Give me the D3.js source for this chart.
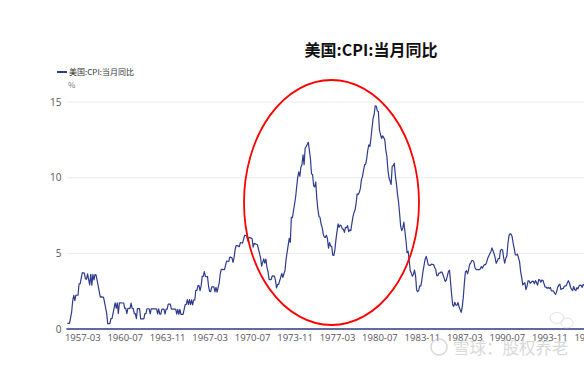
<!DOCTYPE html>
<html><head><meta charset="utf-8">
<script src="https://cdn.jsdelivr.net/npm/d3@7"></script>
<style>
html,body{margin:0;padding:0;background:#fff;}
svg{display:block;font-family:"Microsoft YaHei","Noto Sans CJK SC","Noto Sans",sans-serif;}
</style></head>
<body>
<svg id="chart" width="584" height="365"></svg>
<script>
const title = "美国:CPI:当月同比";
const seriesName = "美国:CPI:当月同比";
const unit = "%";
const startYear = 1956, startMonth = 1;
// monthly YoY % from 1956-01 to 1997-03
const cpiYoY = [
0.37,0.37,0.37,0.75,1.12,1.87,2.23,1.87,2.24,2.23,2.23,2.99,
2.99,3.35,3.72,3.71,3.70,3.31,3.29,3.65,3.27,2.92,3.62,2.90,
3.62,3.25,3.60,3.58,3.21,2.85,2.47,2.11,2.12,2.11,2.11,1.76,
1.40,1.05,0.35,0.35,0.35,0.69,0.69,1.04,1.38,1.73,1.38,1.73,
1.03,1.73,1.73,1.72,1.72,1.72,1.37,1.37,1.02,1.36,1.36,1.36,
1.71,1.36,1.36,1.01,1.01,0.68,1.35,1.35,1.35,0.67,0.67,0.67,
0.67,1.01,1.01,1.34,1.34,1.34,1.00,1.34,1.33,1.33,1.33,1.33,
1.33,1.00,1.33,0.99,0.99,1.32,1.32,1.32,0.99,1.32,1.32,1.64,
1.64,1.64,1.31,1.31,1.31,1.31,1.31,0.98,1.30,0.97,1.30,0.97,
0.97,0.97,1.29,1.62,1.62,1.94,1.61,1.94,1.61,1.93,1.60,1.92,
1.92,2.56,2.56,2.87,2.87,2.53,2.85,3.48,3.48,3.79,3.48,3.46,
3.46,2.81,2.48,2.47,2.79,2.79,2.78,2.45,2.75,2.43,2.74,3.04,
3.65,3.95,3.94,3.93,3.92,4.20,4.49,4.48,4.46,4.75,4.73,4.72,
4.40,4.70,5.25,5.52,5.51,5.48,5.44,5.71,5.70,5.68,5.93,6.20,
6.18,6.15,5.82,6.06,6.04,6.01,5.98,5.41,5.66,5.63,5.60,5.57,
5.29,5.00,4.71,4.16,4.40,4.64,4.36,4.62,4.08,3.81,3.28,3.27,
3.27,3.51,3.50,3.49,3.23,2.71,2.95,2.94,3.19,3.42,3.67,3.41,
3.65,3.87,4.59,5.06,5.53,5.99,5.73,7.38,7.36,7.80,8.25,8.71,
9.39,10.02,10.39,10.09,10.71,10.86,11.51,10.86,11.95,12.06,12.20,12.34,
11.80,11.23,10.25,10.21,9.47,9.39,9.72,8.60,7.91,7.44,7.38,6.94,
6.72,6.29,6.07,6.05,6.20,5.97,5.35,5.71,5.49,5.46,4.88,4.86,
5.22,5.91,6.44,6.95,6.73,6.87,6.83,6.62,6.60,6.39,6.72,6.70,
6.84,6.43,6.55,6.50,6.97,7.41,7.70,7.86,8.31,8.93,8.89,9.03,
9.28,9.86,10.09,10.49,10.85,10.89,11.26,11.82,12.18,12.07,12.61,13.29,
13.91,14.18,14.76,14.73,14.41,14.38,13.13,12.87,12.60,12.77,12.65,12.52,
11.83,11.41,10.49,10.00,9.78,9.55,10.76,10.80,10.95,10.14,9.59,8.92,
8.39,7.62,6.78,6.51,6.68,7.06,6.44,5.85,5.04,5.14,4.59,3.83,
3.71,3.49,3.60,3.90,3.55,2.58,2.46,2.56,2.86,2.85,3.27,3.79,
4.19,4.60,4.80,4.56,4.23,4.22,4.20,4.29,4.27,4.26,4.05,3.95,
3.53,3.52,3.70,3.69,3.77,3.76,3.55,3.35,3.14,3.23,3.51,3.80,
3.89,3.11,2.26,1.59,1.49,1.77,1.58,1.57,1.75,1.47,1.28,1.10,
1.46,2.10,3.03,3.78,3.86,3.65,3.93,4.28,4.36,4.53,4.53,4.43,
4.05,3.94,3.93,3.93,3.92,3.96,4.13,4.02,4.17,4.25,4.25,4.42,
4.67,4.83,4.98,5.11,5.36,5.17,4.98,4.71,4.34,4.49,4.66,4.65,
5.20,5.26,5.23,4.71,4.36,4.67,4.82,5.62,6.16,6.29,6.27,6.11,
5.65,5.31,4.90,4.89,4.95,4.70,4.45,3.80,3.39,2.92,2.99,3.06,
2.60,2.82,3.19,3.18,3.02,3.09,3.16,3.15,2.99,3.20,3.05,2.90,
3.26,3.25,3.09,3.23,3.22,3.00,2.78,2.77,2.69,2.75,2.68,2.75,
2.52,2.52,2.51,2.36,2.29,2.49,2.77,2.90,2.96,2.61,2.67,2.67,
2.80,2.86,2.85,3.05,3.19,3.04,2.76,2.62,2.54,2.81,2.61,2.54,
2.73,2.65,2.84,2.90,2.89,2.75,2.95,2.88,3.00,2.99,3.26,3.32,
3.04,3.03,2.76
];
const tickLabels = ["1957-03","1960-07","1963-11","1967-03","1970-07","1973-11","1977-03","1980-07","1983-11","1987-03","1990-07","1993-11","1997-03"];
const yTicks = [0,5,10,15];
const watermark = "雪球：股权养老";

const months = cpiYoY.map((_, i) => {
  const m = startMonth - 1 + i;
  const y = startYear + Math.floor(m / 12);
  return y + "-" + String(m % 12 + 1).padStart(2, "0");
});

const svg = d3.select("#chart");
const x0 = 67.4, step = 1.0614;
const x = d3.scalePoint().domain(months).range([x0, x0 + (months.length - 1) * step]);
const y = d3.scaleLinear().domain([0, 15]).range([329, 102.1]);

// gridlines
svg.append("g").selectAll("line").data(yTicks.filter(d => d > 0)).join("line")
  .attr("x1", x0).attr("x2", 600)
  .attr("y1", d => y(d)).attr("y2", d => y(d))
  .attr("stroke", "#ebebeb").attr("stroke-width", 1);

// y axis labels
const yAxis = d3.axisLeft(y).tickValues(yTicks).tickSize(0).tickPadding(6);
const gy = svg.append("g").attr("transform", `translate(${x0},0)`).call(yAxis);
gy.select(".domain").remove();
gy.selectAll("text").attr("fill", "#555").style("font-size", "10px").style("font-family", "'Open Sans','Noto Sans',sans-serif");

// x axis
const xAxis = d3.axisBottom(x).tickValues(tickLabels).tickSize(0).tickPadding(5);
const gx = svg.append("g").attr("transform", "translate(0,329)").call(xAxis);
gx.select(".domain").attr("stroke", "#2d3a80").attr("stroke-width", 1.6)
  .attr("d", `M${x0 - 1},0H${x0 + (months.length - 1) * step + 20}`);
gx.selectAll("text").attr("fill", "#555").style("font-size", "9.5px").style("font-family", "'Open Sans','Noto Sans',sans-serif");

// line
const line = d3.line().x((d, i) => x(months[i])).y(d => y(d));
svg.append("path").datum(cpiYoY).attr("d", line)
  .attr("fill", "none").attr("stroke", "#2e3b8e").attr("stroke-width", 1.2)
  .attr("stroke-linejoin", "round");

// title
svg.append("text").attr("x", 371).attr("y", 56).attr("text-anchor", "middle")
  .style("font-size", "16px").style("font-weight", "bold").attr("fill", "#111").text(title);

// legend
svg.append("line").attr("x1", 57).attr("x2", 67).attr("y1", 72).attr("y2", 72)
  .attr("stroke", "#2e3b8e").attr("stroke-width", 2);
svg.append("text").attr("x", 69).attr("y", 75).style("font-size", "8px").attr("fill", "#333").text(seriesName);
svg.append("text").attr("x", 68).attr("y", 88).style("font-size", "8px").attr("fill", "#777").text(unit);

// red ellipse annotation
svg.append("ellipse").attr("cx", 331.5).attr("cy", 202.5).attr("rx", 87.5).attr("ry", 122.5)
  .attr("fill", "none").attr("stroke", "#f00").attr("stroke-width", 1.8);

// watermark
const wm = svg.append("g").attr("opacity", 0.55);
wm.append("circle").attr("cx", 439).attr("cy", 347).attr("r", 8).attr("fill", "none").attr("stroke", "#bbb").attr("stroke-width", 1.5);
wm.append("text").attr("x", 453).attr("y", 354).style("font-size", "16.5px").attr("fill", "#bbb").text(watermark);
wm.append("ellipse").attr("cx", 557).attr("cy", 318).attr("rx", 7).attr("ry", 5.5).attr("fill", "none").attr("stroke", "#ccc");
wm.append("ellipse").attr("cx", 567).attr("cy", 323).attr("rx", 6).attr("ry", 5).attr("fill", "none").attr("stroke", "#ccc");
</script>
</body></html>
